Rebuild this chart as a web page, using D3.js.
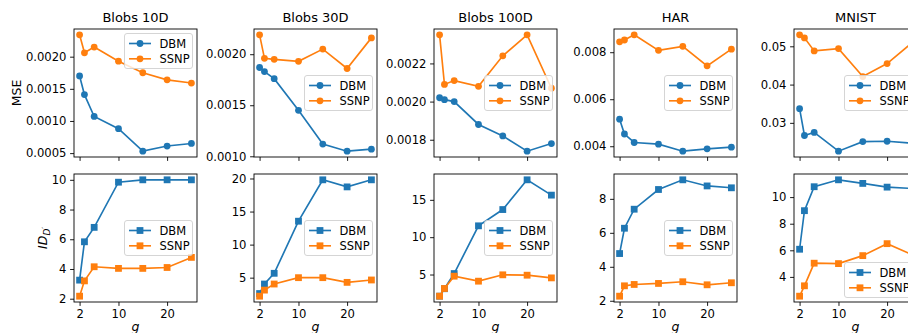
<!DOCTYPE html>
<html><head><meta charset="utf-8">
<script src="https://cdn.jsdelivr.net/npm/d3@7/dist/d3.min.js"></script>
<style>body{margin:0;background:#fff}svg{display:block;font-family:"DejaVu Sans",sans-serif}</style>
</head><body><svg id="c" width="908" height="333"></svg>
<script>
// ---------- data ----------
const gValues = [2, 3, 5, 10, 15, 20, 25];
const datasets = ["Blobs 10D", "Blobs 30D", "Blobs 100D", "HAR", "MNIST"];
const seriesNames = ["DBM", "SSNP"];
const xTicks = [2, 10, 20];

const mseDBM_blobs10  = [0.00170, 0.00141, 0.00107, 0.00088, 0.00053, 0.00061, 0.00065];
const mseSSNP_blobs10 = [0.00234, 0.00206, 0.00215, 0.00193, 0.00175, 0.00164, 0.00159];
const mseDBM_blobs30  = [0.00187, 0.00183, 0.00176, 0.00145, 0.00112, 0.00105, 0.00107];
const mseSSNP_blobs30 = [0.00219, 0.00196, 0.00195, 0.00193, 0.00205, 0.00186, 0.00216];
const mseDBM_blobs100  = [0.00202, 0.00201, 0.00200, 0.00188, 0.00182, 0.00174, 0.00178];
const mseSSNP_blobs100 = [0.00235, 0.00209, 0.00211, 0.00208, 0.00224, 0.00235, 0.00207];
const mseDBM_har  = [0.00515, 0.00452, 0.00416, 0.00409, 0.00379, 0.00389, 0.00396];
const mseSSNP_har = [0.00844, 0.00852, 0.00874, 0.00808, 0.00825, 0.00742, 0.00813];
const mseDBM_mnist  = [0.0337, 0.0267, 0.0275, 0.0226, 0.0251, 0.0252, 0.0247];
const mseSSNP_mnist = [0.0530, 0.0522, 0.0488, 0.0494, 0.0421, 0.0455, 0.0508];

const idDBM_blobs10  = [3.25, 5.83, 6.80, 9.84, 10.0, 10.0, 10.0];
const idSSNP_blobs10 = [2.17, 3.20, 4.15, 4.04, 4.04, 4.10, 4.78];
const idDBM_blobs30  = [2.6, 4.04, 5.66, 13.54, 19.8, 18.73, 19.8];
const idSSNP_blobs30 = [2.2, 3.12, 4.04, 5.0, 5.0, 4.29, 4.65];
const idDBM_blobs100  = [2.1, 3.1, 5.13, 11.52, 13.7, 17.68, 15.63];
const idSSNP_blobs100 = [2.1, 3.13, 4.78, 4.11, 4.96, 4.91, 4.55];
const idDBM_har  = [4.78, 6.27, 7.39, 8.55, 9.12, 8.76, 8.65];
const idSSNP_har = [2.27, 2.88, 2.96, 3.02, 3.12, 2.94, 3.06];
const idDBM_mnist  = [6.08, 8.98, 10.78, 11.3, 11.03, 10.75, 10.65];
const idSSNP_mnist = [2.55, 3.33, 5.03, 5.0, 5.6, 6.5, 5.7];

const mseTicks = [[0.0005, 0.0010, 0.0015, 0.0020], [0.0010, 0.0015, 0.0020], [0.0018, 0.0020, 0.0022], [0.004, 0.006, 0.008], [0.03, 0.04, 0.05]];
const mseTickDecimals = [4, 4, 4, 3, 2];
const idTicks = [[2, 4, 6, 8, 10], [5, 10, 15, 20], [5, 10, 15], [2, 4, 6, 8], [4, 6, 8, 10]];
const mseLegendLoc = ["upper right", "center right", "center right", "center right", "center right"];
const idLegendLoc = ["center right", "center right", "center right", "center right", "lower right"];

const mseRows = [[mseDBM_blobs10, mseSSNP_blobs10], [mseDBM_blobs30, mseSSNP_blobs30], [mseDBM_blobs100, mseSSNP_blobs100], [mseDBM_har, mseSSNP_har], [mseDBM_mnist, mseSSNP_mnist]];
const idRows = [[idDBM_blobs10, idSSNP_blobs10], [idDBM_blobs30, idSSNP_blobs30], [idDBM_blobs100, idSSNP_blobs100], [idDBM_har, idSSNP_har], [idDBM_mnist, idSSNP_mnist]];

// ---------- layout ----------
const colors = ["#1f77b4", "#ff7f0e"];
const axLeft0 = 74, colStep = 180, axW = 123, axH = 128;
const rowTop = [29, 174];
const FS = 11.6, LFS = 11.5, LABEL_FS = 12.5, TITLE_FS = 13, TICK_LEN = 3.9, TICK_PAD = 3.6;
const LW = 1.65, MS = 6.8;

const svg = d3.select("#c");

function pad(ext) { const r = ext[1] - ext[0]; return [ext[0] - 0.05 * r, ext[1] + 0.05 * r]; }

const xDomain = pad(d3.extent(gValues));

function panel(col, row, seriesPair, yTicks, fmt, legendLoc, marker) {
  const x0 = axLeft0 + col * colStep, y0 = rowTop[row];
  const g = svg.append("g").attr("transform", `translate(${x0},${y0})`);
  const x = d3.scaleLinear().domain(xDomain).range([0, axW]);
  const all = seriesPair.flat();
  const y = d3.scaleLinear().domain(pad(d3.extent(all))).range([axH, 0]);

  const yAxis = d3.axisLeft(y).tickValues(yTicks).tickFormat(fmt).tickSize(TICK_LEN).tickPadding(TICK_PAD);
  const xAxis = d3.axisBottom(x).tickValues(xTicks).tickSize(TICK_LEN).tickPadding(TICK_PAD)
    .tickFormat(row === 1 ? d3.format("d") : () => "");
  const ya = g.append("g").call(yAxis);
  const xa = g.append("g").attr("transform", `translate(0,${axH})`).call(xAxis);
  [ya, xa].forEach(a => {
    a.select(".domain").remove();
    a.selectAll(".tick line").attr("stroke", "#000").attr("stroke-width", 0.9);
    a.selectAll(".tick text").attr("fill", "#000").style("font-size", FS + "px").style("font-family", "DejaVu Sans");
  });

  const clipId = `clip${col}_${row}`;
  g.append("clipPath").attr("id", clipId).append("rect").attr("width", axW).attr("height", axH);

  seriesPair.forEach((vals, si) => {
    const pts = vals.map((v, i) => [x(gValues[i]), y(v)]);
    g.append("path").attr("clip-path", `url(#${clipId})`)
      .attr("d", d3.line()(pts)).attr("fill", "none").attr("stroke", colors[si]).attr("stroke-width", LW);
    const mg = g.append("g");
    pts.forEach(p => drawMarker(mg, marker, p[0], p[1], colors[si]));
  });

  g.append("rect").attr("width", axW).attr("height", axH).attr("fill", "none").attr("stroke", "#000").attr("stroke-width", 0.9);

  // legend
  const lw = 68, lh = 35;
  const lx = axW - 4.5 - lw;
  let ly;
  if (legendLoc === "upper right") ly = 4.5;
  else if (legendLoc === "lower right") ly = axH - 4.5 - lh;
  else ly = axH / 2 - lh / 2;
  const lg = g.append("g").attr("transform", `translate(${lx},${ly})`);
  lg.append("rect").attr("width", lw).attr("height", lh).attr("rx", 2.5)
    .attr("fill", "#fff").attr("fill-opacity", 0.8).attr("stroke", "#d0d0d0").attr("stroke-width", 0.9);
  seriesNames.forEach((nm, si) => {
    const cy = 10 + si * 15.3;
    lg.append("line").attr("x1", 4.5).attr("x2", 26.5).attr("y1", cy).attr("y2", cy)
      .attr("stroke", colors[si]).attr("stroke-width", LW);
    drawMarker(lg, marker, 15.5, cy, colors[si]);
    lg.append("text").attr("x", 35).attr("y", cy + 4.2).text(nm).style("font-size", LFS + "px").attr("fill", "#000");
  });
  return g;
}

function drawMarker(sel, marker, cx, cy, color) {
  if (marker === "o") sel.append("circle").attr("cx", cx).attr("cy", cy).attr("r", MS / 2).attr("fill", color);
  else sel.append("rect").attr("x", cx - MS / 2).attr("y", cy - MS / 2).attr("width", MS).attr("height", MS).attr("fill", color);
}

datasets.forEach((name, c) => {
  const dec = mseTickDecimals[c];
  const gTop = panel(c, 0, mseRows[c], mseTicks[c], d => d.toFixed(dec), mseLegendLoc[c], "o");
  gTop.append("text").attr("x", axW / 2).attr("y", -7).attr("text-anchor", "middle")
    .style("font-size", TITLE_FS + "px").attr("fill", "#000").text(name);
  const gBot = panel(c, 1, idRows[c], idTicks[c], d3.format("d"), idLegendLoc[c], "s");
  gBot.append("text").attr("x", axW / 2).attr("y", axH + 29).attr("text-anchor", "middle")
    .style("font-size", LABEL_FS + "px").style("font-style", "italic").attr("fill", "#000").text("g");
});

// y labels
svg.append("text").attr("transform", `translate(21,${rowTop[0] + axH / 2}) rotate(-90)`)
  .attr("text-anchor", "middle").style("font-size", LABEL_FS + "px").attr("fill", "#000").text("MSE");
const idl = svg.append("text").attr("transform", `translate(47,${rowTop[1] + axH / 2}) rotate(-90)`)
  .attr("text-anchor", "middle").style("font-size", LABEL_FS + "px").attr("fill", "#000");
idl.append("tspan").style("font-style", "italic").text("ID");
idl.append("tspan").style("font-style", "italic").style("font-size", "9px").attr("dy", 2.5).text("D");
idl.append("tspan").style("font-size", "7px").attr("dy", -3).text("′");
</script></body></html>
